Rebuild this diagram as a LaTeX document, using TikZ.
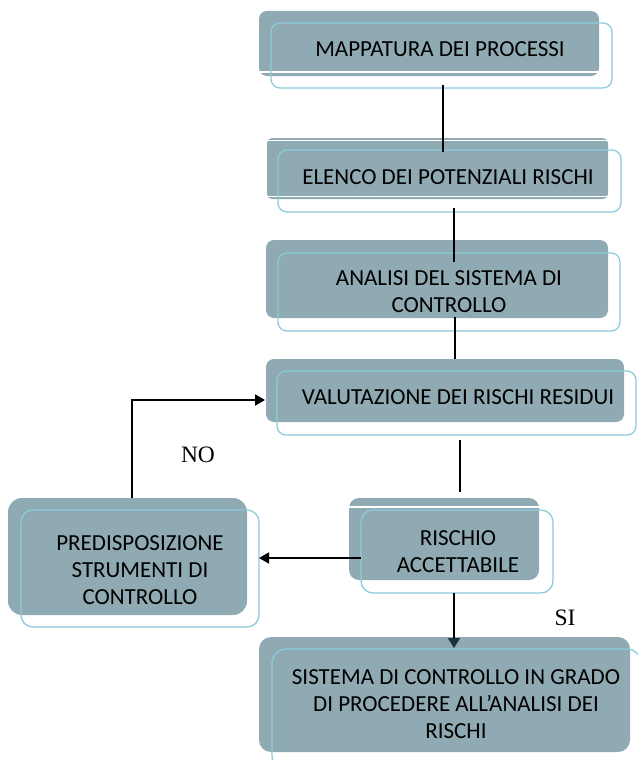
\documentclass[tikz,border=0pt]{standalone}
\usepackage{fontspec}
\setmainfont{Carlito}
\newfontfamily\timesf{Liberation Serif}
\usetikzlibrary{arrows.meta}
\definecolor{boxfill}{RGB}{143,170,178}
\definecolor{boxline}{RGB}{140,203,220}
\definecolor{darkhead}{RGB}{24,52,60}
\tikzset{
  fillbox/.style={rectangle, rounded corners=8pt, fill=boxfill, inner sep=0pt},
  outbox/.style={rectangle, rounded corners=9pt, draw=boxline, line width=1.3pt, inner sep=0pt},
  txt/.style={inner sep=0pt, align=center, font=\fontsize{23}{27}\selectfont},
  lab/.style={inner sep=0pt, font=\timesf\fontsize{23.5}{26}\selectfont},
  conn/.style={line width=1.4pt, black},
  arr/.style={line width=1.6pt, black, -{Triangle[length=10pt,width=11pt]}},
}
\begin{document}
\begin{tikzpicture}[x=1pt,y=-1pt]
\useasboundingbox (0,0) rectangle (637,760);
% box 1
\node[fillbox, minimum width=340pt, minimum height=65pt] (f1) at (429,43.5) {};
\draw[white, line width=1.3pt] (f1.west |- 0,72) -- (f1.east |- 0,72);
\node[outbox, minimum width=341pt, minimum height=65pt] (o1) at (441.5,55.5) {};
\node[txt] (t1) at (440,49) {MAPPATURA DEI PROCESSI};
% box 2
\node[fillbox, rounded corners=5pt, minimum width=341pt, minimum height=61pt] (f2) at (437.5,168.5) {};
\draw[white, line width=1.3pt] (f2.west |- 0,140.5) -- (f2.east |- 0,140.5);
\draw[white, line width=1.3pt] (f2.west |- 0,196.5) -- (f2.east |- 0,196.5);
\node[outbox, minimum width=343pt, minimum height=62pt] (o2) at (449.5,181) {};
\node[txt] (t2) at (448,177) {ELENCO DEI POTENZIALI RISCHI};
% box 3
\node[fillbox, minimum width=342pt, minimum height=78pt] (f3) at (437,279) {};
\node[outbox, minimum width=342pt, minimum height=78pt] (o3) at (449,292) {};
\node[txt] (t3) at (449,292) {ANALISI DEL SISTEMA DI\\CONTROLLO};
% box 4
\node[fillbox, minimum width=358pt, minimum height=63pt] (f4) at (445,390.5) {};
\node[outbox, minimum width=359pt, minimum height=64pt] (o4) at (456.5,403) {};
\node[txt] (t4) at (458,397) {VALUTAZIONE DEI RISCHI RESIDUI};
% box 5
\node[fillbox, rounded corners=14pt, minimum width=239pt, minimum height=117pt] (f5) at (127.5,556.5) {};
\node[outbox, rounded corners=12pt, minimum width=238pt, minimum height=117pt] (o5) at (140,568.5) {};
\node[txt] (t5) at (140,570) {PREDISPOSIZIONE\\STRUMENTI DI\\CONTROLLO};
% box 6
\node[fillbox, rounded corners=10pt, minimum width=190pt, minimum height=82pt] (f6) at (444,539) {};
\draw[white, line width=1.5pt] (f6.west |- 0,507) -- (f6.east |- 0,507);
\node[outbox, rounded corners=12pt, minimum width=192pt, minimum height=83pt] (o6) at (457,551.5) {};
\node[txt] (t6) at (458,552) {RISCHIO\\ACCETTABILE};
% box 7
\node[fillbox, rounded corners=12pt, minimum width=371pt, minimum height=115pt] (f7) at (444.5,694.5) {};
\node[outbox, rounded corners=14pt, minimum width=369pt, minimum height=121pt] (o7) at (456.5,709.5) {};
\node[txt] (t7) at (456,704) {SISTEMA DI CONTROLLO IN GRADO\\DI PROCEDERE ALL’ANALISI DEI\\RISCHI};
% labels
\node[lab] (no) at (198,455) {NO};
\node[lab] (si) at (565,618) {SI};
% connector coordinates
\coordinate (c1a) at (443,85);  \coordinate (c1b) at (443,152);
\coordinate (c2a) at (454,208); \coordinate (c2b) at (454,262);
\coordinate (c3a) at (455,317); \coordinate (c3b) at (455,359);
\coordinate (c4a) at (460,440); \coordinate (c4b) at (460,492);
\coordinate (c5a) at (454,593); \coordinate (c5b) at (454,648);
\coordinate (c6a) at (361,558); \coordinate (c6b) at (259,558);
\coordinate (c7a) at (132,498); \coordinate (c7m) at (132,400); \coordinate (c7b) at (265,400);
\draw[conn] (c1a) -- (c1b);
\draw[conn] (c2a) -- (c2b);
\draw[conn] (c3a) -- (c3b);
\draw[conn] (c4a) -- (c4b);
\draw[line width=1.5pt, black, -{Triangle[length=10pt,width=12pt,fill=darkhead,color=darkhead]}] (c5a) -- (c5b);
\draw[arr] (c6a) -- (c6b);
\draw[arr, line width=2pt] (c7a) -- (c7m) -- (c7b);
\end{tikzpicture}
\end{document}
